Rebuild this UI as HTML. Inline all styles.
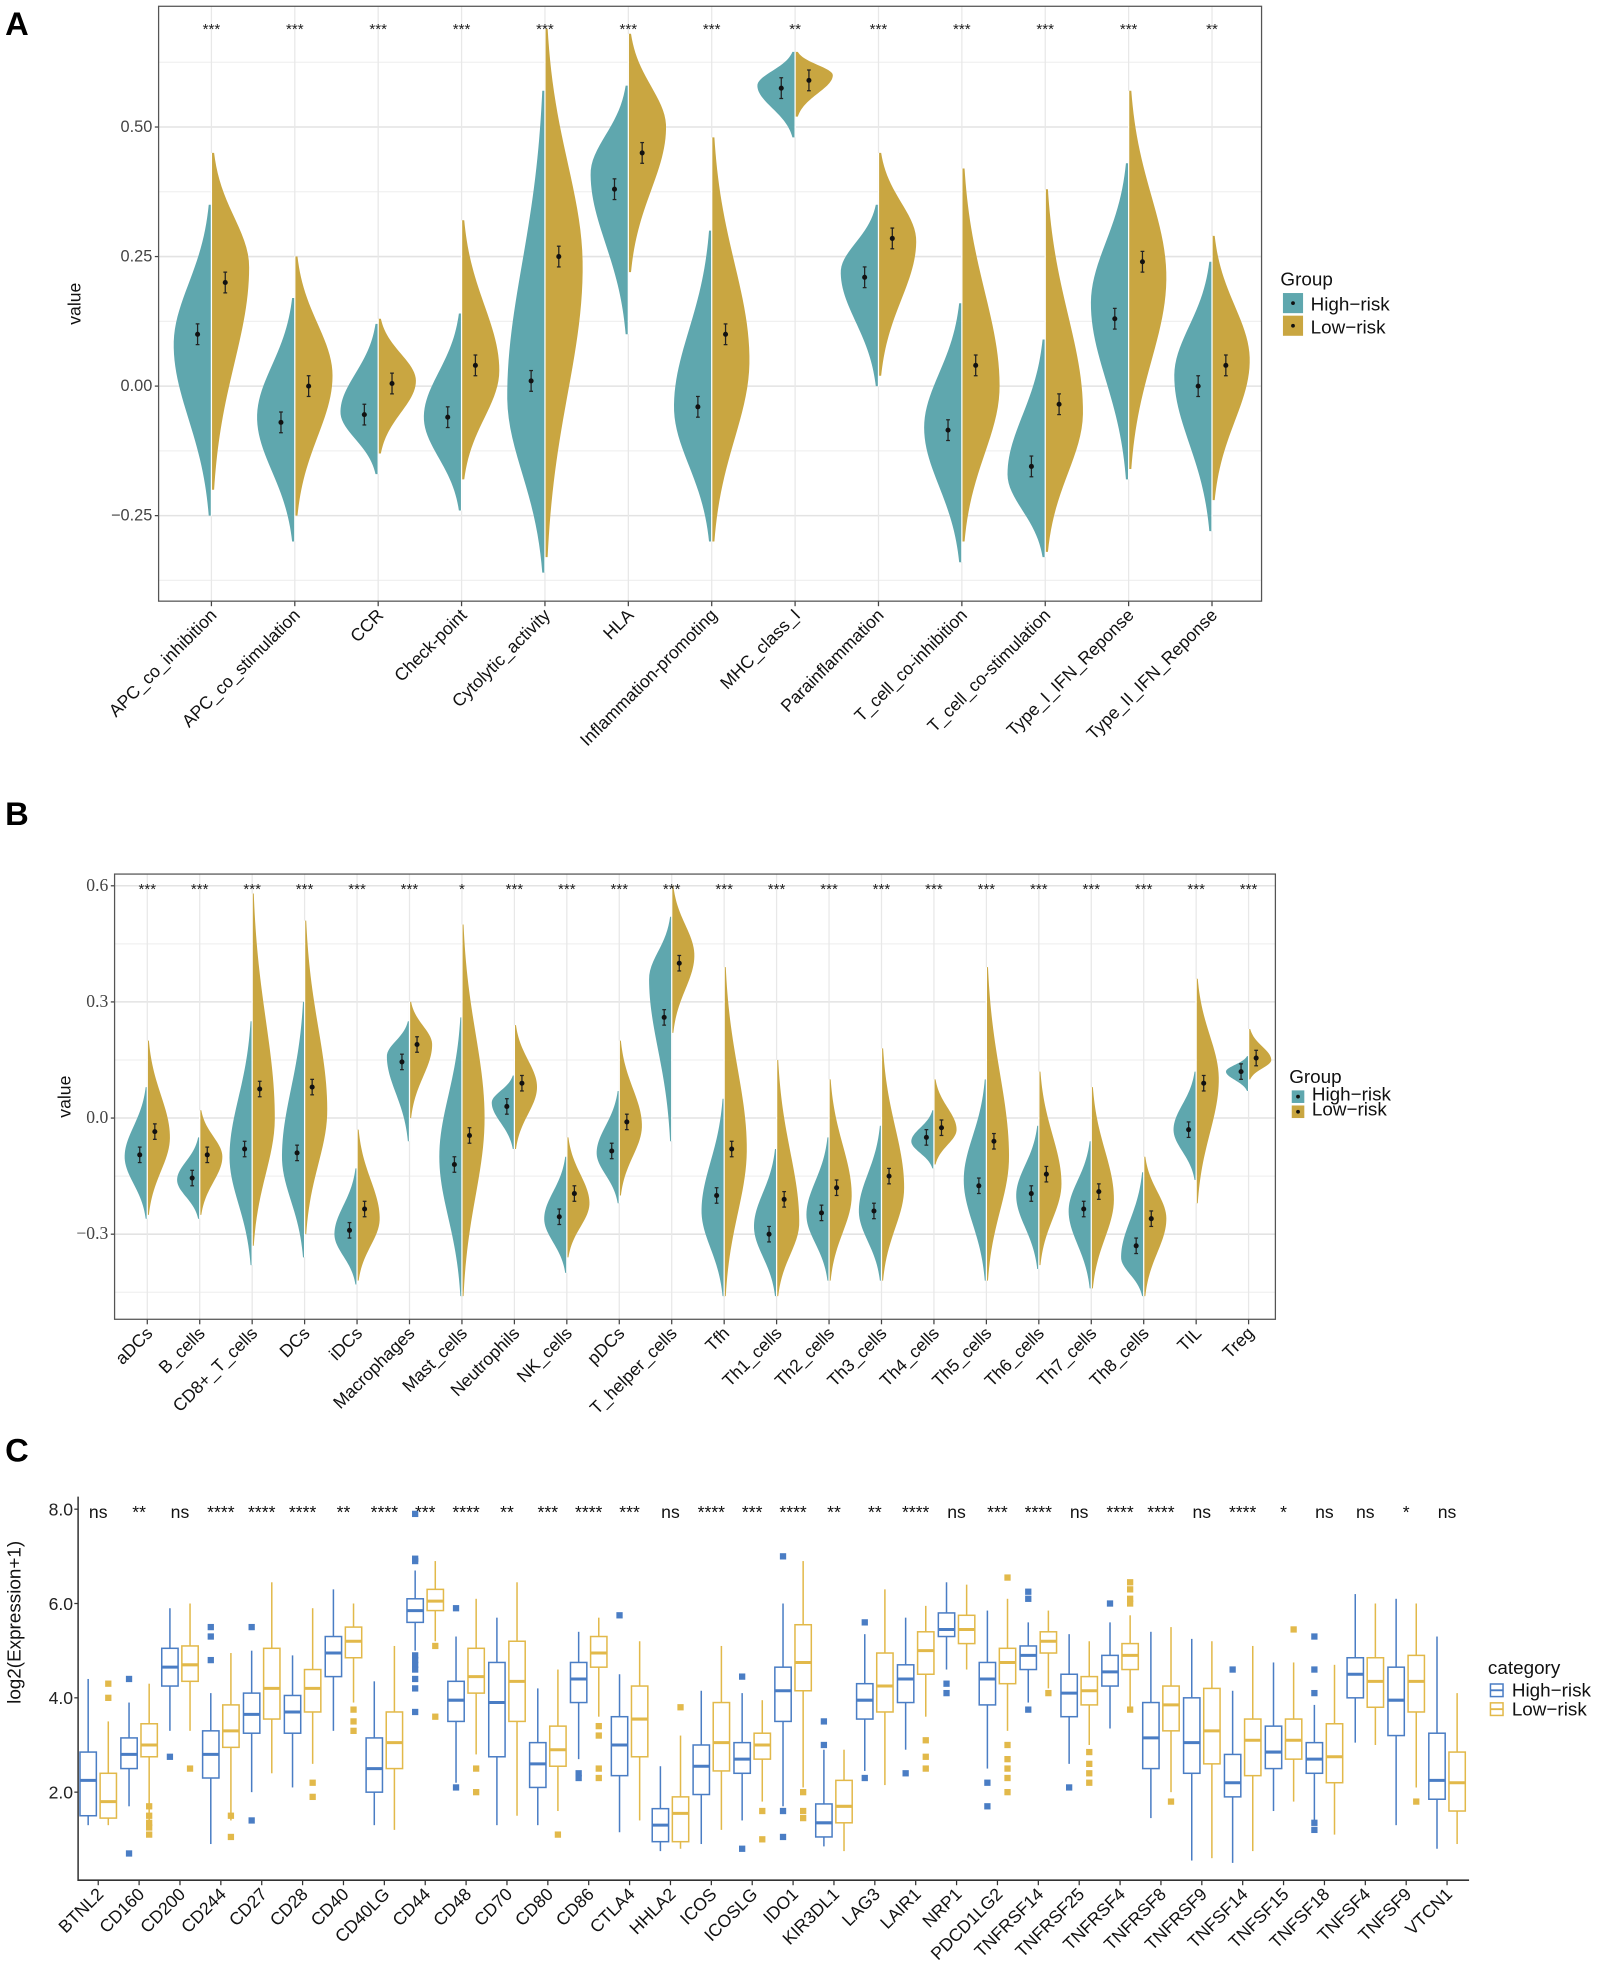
<!DOCTYPE html>
<html><head><meta charset="utf-8"><style>
html,body{margin:0;padding:0;background:#fff}
svg{display:block;font-family:"Liberation Sans",sans-serif}
</style></head><body>
<svg id="fig" width="1600" height="1972" viewBox="0 0 1272 1568" xmlns="http://www.w3.org/2000/svg">
<text x="4" y="28" font-size="26" font-weight="bold">A</text>
<text x="4" y="656" font-size="26" font-weight="bold">B</text>
<text x="4" y="1162" font-size="26" font-weight="bold">C</text>
<g id="gA"></g>
<g id="gB"></g>
<g id="gC"></g>
</svg>
<script>
// ===== Panel A data =====
const aCats=["APC_co_inhibition","APC_co_stimulation","CCR","Check-point","Cytolytic_activity","HLA","Inflammation-promoting","MHC_class_I","Parainflammation","T_cell_co-inhibition","T_cell_co-stimulation","Type_I_IFN_Reponse","Type_II_IFN_Reponse"];
const aSig=["***","***","***","***","***","***","***","**","***","***","***","***","**"];
const aHiMean=[0.10,-0.07,-0.055,-0.06,0.01,0.38,-0.04,0.575,0.21,-0.085,-0.155,0.13,0.00];
const aHiMin=[-0.25,-0.30,-0.17,-0.24,-0.36,0.10,-0.30,0.48,0.00,-0.34,-0.33,-0.18,-0.28];
const aHiMax=[0.35,0.17,0.12,0.14,0.57,0.58,0.30,0.645,0.35,0.16,0.09,0.43,0.24];
const aHiPeak=[0.08,-0.06,-0.05,-0.06,-0.02,0.41,-0.04,0.58,0.22,-0.08,-0.17,0.16,0.02];
const aLoMean=[0.20,0.00,0.005,0.04,0.25,0.45,0.10,0.59,0.285,0.04,-0.035,0.24,0.04];
const aLoMin=[-0.20,-0.25,-0.13,-0.18,-0.33,0.22,-0.30,0.52,0.02,-0.30,-0.32,-0.16,-0.22];
const aLoMax=[0.45,0.25,0.13,0.32,0.69,0.68,0.48,0.645,0.45,0.42,0.38,0.57,0.29];
const aLoPeak=[0.23,0.02,0.01,0.03,0.23,0.50,0.05,0.60,0.28,0.00,-0.05,0.21,0.05];
const aTicks=[0.50,0.25,0.00,-0.25];
const aTickLabels=["0.50","0.25","0.00","\u22120.25"];
// ===== Panel B data =====
const bCats=["aDCs","B_cells","CD8+_T_cells","DCs","iDCs","Macrophages","Mast_cells","Neutrophils","NK_cells","pDCs","T_helper_cells","Tfh","Th1_cells","Th2_cells","Th3_cells","Th4_cells","Th5_cells","Th6_cells","Th7_cells","Th8_cells","TIL","Treg"];
const bSig=["***","***","***","***","***","***","*","***","***","***","***","***","***","***","***","***","***","***","***","***","***","***"];
const bHiMean=[-0.095,-0.155,-0.08,-0.09,-0.29,0.145,-0.12,0.03,-0.255,-0.085,0.26,-0.20,-0.30,-0.245,-0.24,-0.05,-0.175,-0.195,-0.235,-0.33,-0.03,0.12];
const bHiMin=[-0.26,-0.26,-0.38,-0.36,-0.43,-0.06,-0.46,-0.08,-0.40,-0.22,-0.06,-0.46,-0.46,-0.42,-0.42,-0.13,-0.42,-0.39,-0.44,-0.46,-0.16,0.07];
const bHiMax=[0.08,-0.05,0.25,0.30,-0.13,0.25,0.26,0.11,-0.10,0.07,0.52,0.05,-0.08,-0.05,-0.02,0.02,0.10,-0.02,-0.06,-0.14,0.12,0.16];
const bHiPeak=[-0.10,-0.16,-0.10,-0.10,-0.30,0.16,-0.10,0.04,-0.26,-0.09,0.36,-0.24,-0.28,-0.25,-0.24,-0.06,-0.16,-0.20,-0.24,-0.36,-0.03,0.12];
const bLoMean=[-0.035,-0.095,0.075,0.08,-0.235,0.19,-0.045,0.09,-0.195,-0.01,0.40,-0.08,-0.21,-0.18,-0.15,-0.025,-0.06,-0.145,-0.19,-0.26,0.09,0.155];
const bLoMin=[-0.25,-0.25,-0.33,-0.30,-0.42,0.0,-0.46,-0.08,-0.36,-0.20,0.22,-0.46,-0.46,-0.42,-0.42,-0.12,-0.42,-0.38,-0.44,-0.46,-0.22,0.10];
const bLoMax=[0.20,0.02,0.58,0.51,-0.03,0.30,0.50,0.24,-0.05,0.20,0.60,0.39,0.15,0.10,0.18,0.10,0.39,0.12,0.08,-0.10,0.36,0.23];
const bLoPeak=[-0.05,-0.10,0.0,0.02,-0.26,0.19,0.0,0.08,-0.22,-0.02,0.42,-0.08,-0.27,-0.20,-0.18,-0.03,-0.10,-0.17,-0.21,-0.26,0.10,0.15];
const bTicks=[0.6,0.3,0.0,-0.3];
const bTickLabels=["0.6","0.3","0.0","\u22120.3"];
// ===== Panel C data =====
const cGenes=["BTNL2","CD160","CD200","CD244","CD27","CD28","CD40","CD40LG","CD44","CD48","CD70","CD80","CD86","CTLA4","HHLA2","ICOS","ICOSLG","IDO1","KIR3DL1","LAG3","LAIR1","NRP1","PDCD1LG2","TNFRSF14","TNFRSF25","TNFRSF4","TNFRSF8","TNFRSF9","TNFSF14","TNFSF15","TNFSF18","TNFSF4","TNFSF9","VTCN1"];
const cSig=["ns","**","ns","****","****","****","**","****","***","****","**","***","****","***","ns","****","***","****","**","**","****","ns","***","****","ns","****","****","ns","****","*","ns","ns","*","ns"];
const cHi=[[1.3,1.5,2.25,2.85,4.4],[1.7,2.5,2.8,3.15,3.9],[3.3,4.25,4.65,5.05,5.9],[0.9,2.3,2.8,3.3,4.1],[2.0,3.25,3.65,4.1,5.0],[2.1,3.25,3.7,4.05,4.9],[3.3,4.45,4.95,5.3,6.3],[1.3,2.0,2.5,3.15,4.35],[5.0,5.6,5.85,6.1,6.7],[2.2,3.5,3.95,4.35,5.3],[1.3,2.75,3.9,4.75,5.7],[1.3,2.1,2.6,3.05,4.2],[2.7,3.9,4.4,4.75,5.4],[1.15,2.35,3.0,3.6,4.5],[0.75,0.95,1.3,1.65,2.55],[0.9,1.95,2.55,3.0,4.15],[1.4,2.4,2.7,3.05,4.1],[1.7,3.5,4.15,4.65,6.0],[0.85,1.05,1.35,1.75,2.9],[2.45,3.55,3.95,4.3,5.35],[2.9,3.9,4.4,4.7,5.7],[4.6,5.3,5.45,5.8,6.45],[2.5,3.85,4.4,4.75,5.85],[3.9,4.6,4.9,5.1,5.6],[2.6,3.6,4.1,4.5,5.35],[3.35,4.25,4.55,4.9,5.6],[1.45,2.5,3.15,3.9,5.4],[0.55,2.4,3.05,4.0,5.25],[0.5,1.9,2.2,2.8,4.15],[1.6,2.5,2.85,3.4,4.75],[1.4,2.4,2.7,3.05,3.85],[3.05,4.0,4.5,4.85,6.2],[1.3,3.2,3.95,4.65,6.1],[0.8,1.85,2.25,3.25,5.3]];
const cLo=[[1.3,1.45,1.8,2.4,3.5],[1.2,2.75,3.0,3.45,4.3],[3.3,4.35,4.7,5.1,6.0],[1.4,2.95,3.3,3.85,4.95],[2.4,3.55,4.2,5.05,6.45],[2.6,3.7,4.2,4.6,5.9],[3.9,4.85,5.2,5.5,6.0],[1.2,2.5,3.05,3.7,5.1],[5.2,5.85,6.05,6.3,6.9],[2.8,4.1,4.45,5.05,6.1],[1.5,3.5,4.35,5.2,6.45],[1.6,2.55,2.9,3.4,4.6],[3.6,4.65,4.95,5.3,5.7],[1.4,2.75,3.55,4.25,5.2],[0.8,0.95,1.55,1.9,3.2],[1.2,2.45,3.05,3.9,5.1],[1.8,2.7,3.0,3.25,3.95],[2.1,4.15,4.75,5.55,6.9],[0.75,1.35,1.7,2.25,2.9],[2.15,3.7,4.25,4.95,6.3],[3.6,4.5,5.0,5.4,5.95],[4.6,5.15,5.45,5.75,6.4],[3.3,4.3,4.75,5.05,6.1],[4.2,4.95,5.2,5.4,5.85],[3.0,3.85,4.15,4.45,5.2],[3.8,4.6,4.9,5.15,5.75],[2.0,3.3,3.85,4.25,5.5],[0.6,2.6,3.3,4.2,5.2],[0.75,2.35,3.1,3.55,5.1],[1.8,2.7,3.1,3.55,4.75],[1.1,2.2,2.75,3.45,4.7],[3.0,3.8,4.35,4.85,6.0],[2.1,3.7,4.35,4.9,6.0],[0.9,1.6,2.2,2.85,4.1]];
const cOutGene=[0,0,1,1,1,1,1,1,1,2,2,3,3,3,3,3,4,4,5,5,6,6,6,8,8,8,8,8,8,8,8,8,8,8,8,9,9,9,9,11,12,12,12,12,12,12,13,14,16,16,16,16,17,17,17,17,17,17,18,18,19,19,20,20,20,20,21,21,22,22,22,22,22,22,22,22,23,23,23,23,24,24,24,24,24,25,25,25,25,25,25,26,28,29,30,30,30,30,30,32];
const cOutGrp=[1,1,0,0,1,1,1,1,1,0,1,0,0,0,1,1,0,0,1,1,1,1,1,0,0,0,0,0,0,0,0,0,0,1,1,0,0,1,1,1,0,0,1,1,1,1,0,1,0,0,1,1,0,0,0,1,1,1,0,0,0,0,0,1,1,1,0,0,0,0,1,1,1,1,1,1,0,0,0,1,0,1,1,1,1,0,1,1,1,1,1,1,0,1,0,0,0,0,0,1];
const cOutVal=[4.3,4.0,4.4,0.7,1.7,1.5,1.35,1.25,1.1,2.75,2.5,5.5,5.3,4.8,1.5,1.05,5.5,1.4,2.2,1.9,3.75,3.5,3.3,7.9,6.95,6.9,4.9,4.8,4.7,4.6,4.4,4.2,3.7,5.1,3.6,5.9,2.1,2.5,2.0,1.1,2.4,2.3,3.4,3.2,2.5,2.3,5.75,3.8,4.45,0.8,1.6,1.0,7.0,1.6,1.05,2.0,1.6,1.45,3.5,3.0,5.6,2.3,2.4,3.1,2.75,2.5,4.3,4.1,2.2,1.7,6.55,3.0,2.7,2.5,2.3,2.0,6.25,6.1,3.75,4.1,2.1,2.85,2.6,2.4,2.2,6.0,6.45,6.3,6.1,6.0,3.75,1.8,4.6,5.45,5.3,4.6,4.1,1.35,1.2,1.8];
const cTicks=[2,4,6,8];
const cTickLabels=["2.0","4.0","6.0","8.0"];

const NS="http://www.w3.org/2000/svg";
function mk(parent,tag,attrs,text){const e=document.createElementNS(NS,tag);for(const k in attrs)e.setAttribute(k,attrs[k]);if(text!==undefined)e.textContent=text;parent.appendChild(e);return e;}
const TEAL="#5fa7ae",GOLD="#c9a641",BLUE="#4a7dc4",YEL="#e2b94a";

function violinPath(cx,yf,mn,mx,pk,W,dir){
  let pts=[];const N=50;
  for(let i=0;i<=N;i++){const v=mx-(mx-mn)*i/N;const sd=(v>pk?(mx-pk):(pk-mn))/2.3||0.01;
    const w=W*Math.exp(-0.5*Math.pow((v-pk)/sd,2));pts.push([cx+dir*w,yf(v)]);}
  let d="M"+cx+","+yf(mx);pts.forEach(p=>d+=" L"+p[0].toFixed(2)+","+p[1].toFixed(2));d+=" L"+cx+","+yf(mn)+" Z";return d;
}

function violinPanel(g,o){
  const yf=v=>o.y0-v*o.ppu;const xf=i=>o.x0+i*o.step;
  const clipId="clip"+o.id;
  const cp=mk(g,"clipPath",{id:clipId});mk(cp,"rect",{x:o.L,y:o.T,width:o.R-o.L,height:o.B-o.T});
  const bg=mk(g,"rect",{x:o.L,y:o.T,width:o.R-o.L,height:o.B-o.T,fill:"#fff"});
  
  
  o.minor.forEach(v=>{const l=mk(g,"line",{x1:o.L,x2:o.R,y1:yf(v),y2:yf(v),stroke:"#f0f0f0","stroke-width":1});});
  o.ticks.forEach((v,i)=>{const l=mk(g,"line",{x1:o.L,x2:o.R,y1:yf(v),y2:yf(v),stroke:"#e3e3e3","stroke-width":1.2});
    const t=mk(g,"text",{x:o.L-5,y:yf(v)+4,"text-anchor":"end","font-size":o.tfs,fill:"#444","font-family":o.tff},o.tickLabels[i]);
    mk(g,"line",{x1:o.L-3,x2:o.L,y1:yf(v),y2:yf(v),stroke:"#444"});});
  const vg=mk(g,"g",{"clip-path":"url(#"+clipId+")"});
  o.cats.forEach((c,i)=>{const cx=xf(i);
    const gl=mk(vg,"line",{x1:cx,x2:cx,y1:o.T,y2:o.B,stroke:"#e8e8e8","stroke-width":1});
    const hv=mk(vg,"path",{d:violinPath(cx,yf,o.hiMin[i],o.hiMax[i],o.hiPeak[i],o.W,-1),fill:TEAL});
    
    
    const lv=mk(vg,"path",{d:violinPath(cx,yf,o.loMin[i],o.loMax[i],o.loPeak[i],o.W,1),fill:GOLD});
    
    
    mk(vg,"line",{x1:cx,x2:cx,y1:yf(Math.max(o.hiMax[i],o.loMax[i])),y2:yf(Math.min(o.hiMin[i],o.loMin[i])),stroke:"#fff","stroke-width":1});
    [[o.hiMean[i],cx-o.off],[o.loMean[i],cx+o.off]].forEach(([m,x])=>{
      mk(vg,"line",{x1:x,x2:x,y1:yf(m+o.err),y2:yf(m-o.err),stroke:"#222","stroke-width":1});
      mk(vg,"line",{x1:x-1.5,x2:x+1.5,y1:yf(m+o.err),y2:yf(m+o.err),stroke:"#222"});
      mk(vg,"line",{x1:x-1.5,x2:x+1.5,y1:yf(m-o.err),y2:yf(m-o.err),stroke:"#222"});
      const d=mk(vg,"circle",{cx:x,cy:yf(m),r:2,fill:"#111"});});
    const s=mk(g,"text",{x:cx,y:o.sigY,"text-anchor":"middle","font-size":12,fill:"#222"},o.sig[i]);
    mk(g,"line",{x1:cx,x2:cx,y1:o.B,y2:o.B+4,stroke:"#444"});
    const t=mk(g,"text",{x:cx+5,y:o.B+12,"text-anchor":"end","font-size":o.xfs,fill:"#111",transform:"rotate(-45 "+(cx+5)+" "+(o.B+12)+")"},c);
    
  });
  const fr=mk(g,"rect",{x:o.L,y:o.T,width:o.R-o.L,height:o.B-o.T,fill:"none",stroke:"#555","stroke-width":1});
  const yl=mk(g,"text",{x:0,y:0,"text-anchor":"middle","font-size":14,fill:"#111",transform:"translate("+o.ylx+","+((o.T+o.B)/2)+") rotate(-90)"},"value");
  
  const lg=mk(g,"g",{});
  mk(lg,"text",{x:o.lgx-2,y:o.lgy,"font-size":15,fill:"#111"},"Group");
  [["High\u2212risk",TEAL],["Low\u2212risk",GOLD]].forEach(([n,c],k)=>{const yy=o.lgy+6+k*o.lgs;
    const r=mk(lg,"rect",{x:o.lgx,y:yy,width:o.lgs-2,height:o.lgs-2,fill:c});
    mk(lg,"circle",{cx:o.lgx+(o.lgs-2)/2,cy:yy+(o.lgs-2)/2,r:1.5,fill:"#111"});
    const t=mk(lg,"text",{x:o.lgx+o.lgs+4,y:yy+o.lgs-4,"font-size":15,fill:"#111"},n);});
}

violinPanel(document.getElementById("gA"),{id:"A",cats:aCats,sig:aSig,hiMean:aHiMean,hiMin:aHiMin,hiMax:aHiMax,hiPeak:aHiPeak,loMean:aLoMean,loMin:aLoMin,loMax:aLoMax,loPeak:aLoPeak,
  ticks:aTicks,tickLabels:aTickLabels,minor:[0.625,0.375,0.125,-0.125,-0.375],L:126,R:1003,T:5,B:478,y0:307,ppu:412,x0:168,step:66.3,W:30,off:11,err:0.02,sigY:27,tfs:13,tff:"Liberation Sans, sans-serif",xfs:14,ylx:64,lgx:1020,lgy:227,lgs:18});
violinPanel(document.getElementById("gB"),{id:"B",cats:bCats,sig:bSig,hiMean:bHiMean,hiMin:bHiMin,hiMax:bHiMax,hiPeak:bHiPeak,loMean:bLoMean,loMin:bLoMin,loMax:bLoMax,loPeak:bLoPeak,
  ticks:bTicks,tickLabels:bTickLabels,minor:[0.45,0.15,-0.15,-0.45],L:91,R:1014,T:695,B:1049,y0:889,ppu:307.8,x0:117,step:41.7,W:18,off:6,err:0.02,sigY:711,tfs:14,tff:"Liberation Serif, serif",xfs:14,ylx:56,lgx:1027,lgy:861,lgs:12});

// Panel C
(function(){
  const g=document.getElementById("gC");
  const yf=v=>1425-(v-2)*37.5;const xf=i=>78+i*32.5;
  const L=62,B=1495,R=1168;
  cTicks.forEach((v,i)=>{const t=mk(g,"text",{x:L-4,y:yf(v)+5,"text-anchor":"end","font-size":14,fill:"#222"},cTickLabels[i]);
    mk(g,"line",{x1:L-3,x2:L,y1:yf(v),y2:yf(v),stroke:"#333"});});
  cGenes.forEach((gn,i)=>{const cx=xf(i);
    [[cHi[i],cx-8,BLUE,"box-high-risk"],[cLo[i],cx+8,YEL,"box-low-risk"]].forEach(([b,x,col,nm])=>{
      const bg=mk(g,"g",{});
      
      
      mk(bg,"line",{x1:x,x2:x,y1:yf(b[0]),y2:yf(b[1]),stroke:col,"stroke-width":1.2});
      mk(bg,"line",{x1:x,x2:x,y1:yf(b[3]),y2:yf(b[4]),stroke:col,"stroke-width":1.2});
      mk(bg,"rect",{x:x-6.5,y:yf(b[3]),width:13,height:yf(b[1])-yf(b[3]),fill:"#fff",stroke:col,"stroke-width":1.2});
      mk(bg,"line",{x1:x-6.5,x2:x+6.5,y1:yf(b[2]),y2:yf(b[2]),stroke:col,"stroke-width":2.4});
    });
    const s=mk(g,"text",{x:cx,y:1207,"text-anchor":"middle","font-size":14,fill:"#111"},cSig[i]);
    mk(g,"line",{x1:cx,x2:cx,y1:B,y2:B+4,stroke:"#333"});
    const t=mk(g,"text",{x:cx+5,y:B+12,"text-anchor":"end","font-size":14,fill:"#111",transform:"rotate(-45 "+(cx+5)+" "+(B+12)+")"},gn);
    
  });
  cOutVal.forEach((v,k)=>{const x=xf(cOutGene[k])+(cOutGrp[k]?8:-8);
    const r=mk(g,"rect",{x:x-2.5,y:yf(v)-2.5,width:5,height:5,fill:cOutGrp[k]?YEL:BLUE});
    
    });
  const ax=mk(g,"path",{d:`M${L},1190 L${L},${B} L${R},${B}`,fill:"none",stroke:"#333","stroke-width":1.2});
  const yl=mk(g,"text",{x:0,y:0,"text-anchor":"middle","font-size":15,fill:"#111",transform:"translate(16,1290) rotate(-90)"},"log2(Expression+1)");
  
  const lg=mk(g,"g",{});
  mk(lg,"text",{x:1183,y:1331,"font-size":15,fill:"#111"},"category");
  [["High\u2212risk",BLUE],["Low\u2212risk",YEL]].forEach(([n,c],k)=>{const yy=1337+k*15;
    mk(lg,"rect",{x:1185,y:yy+2,width:10,height:10,fill:"#fff",stroke:c,"stroke-width":1.2});
    mk(lg,"line",{x1:1185,x2:1195,y1:yy+7,y2:yy+7,stroke:c,"stroke-width":1.5});
    const t=mk(lg,"text",{x:1202,y:yy+12,"font-size":15,fill:"#111"},n);});
})();
</script>
</body></html>
